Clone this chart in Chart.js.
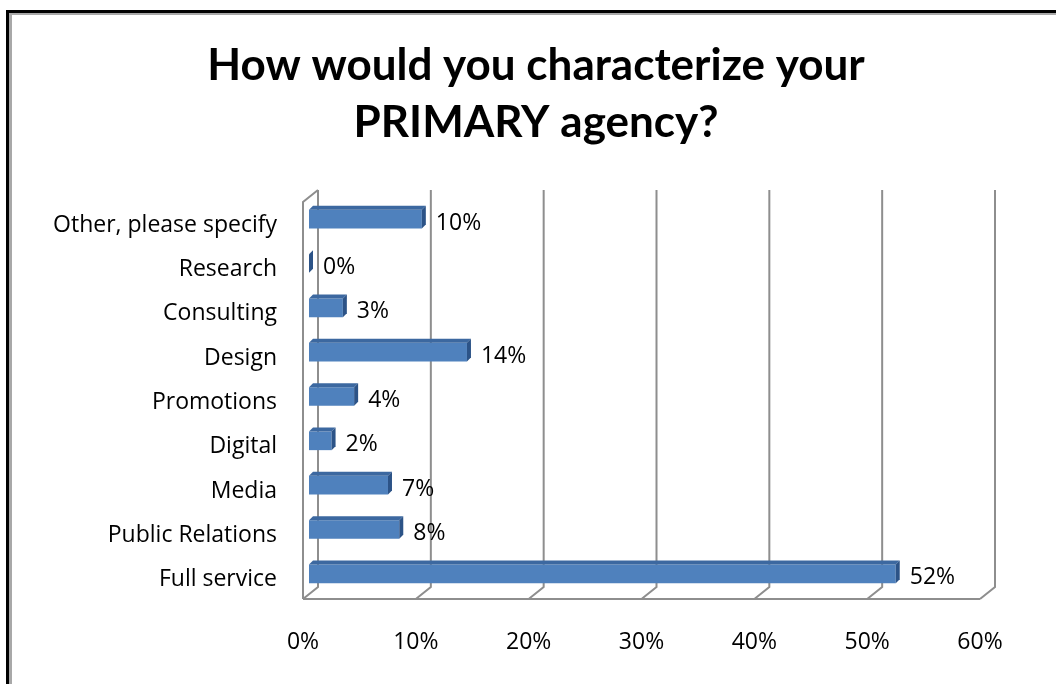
<!DOCTYPE html>
<html>
<head>
<meta charset="utf-8">
<title>Primary agency</title>
<script src="https://cdn.jsdelivr.net/npm/chart.js@4.4.1/dist/chart.umd.min.js"></script>
<style>
  html, body { margin: 0; padding: 0; background: #fff; width: 1056px; height: 684px; overflow: hidden; }
  #frame { position: absolute; left: 6px; top: 10px; width: 1100px; height: 720px; border-top: 3px solid #000; border-left: 3px solid #000; }
  #frame::after { content: ''; position: absolute; left: 0; top: 0; right: 0; bottom: 0; border-top: 2px solid #a8a8a8; border-left: 3px solid #a8a8a8; }
  canvas { position: absolute; left: 0; top: 0; }
</style>
</head>
<body>
<div id="frame"></div>
<canvas id="myChart" width="1056" height="684"></canvas>
<script>
  'use strict';

  var categories = ['Other, please specify', 'Research', 'Consulting', 'Design', 'Promotions',
                    'Digital', 'Media', 'Public Relations', 'Full service'];
  var percentages = [10, 0, 3, 14, 4, 2, 7, 8, 52];
  var tickLabels = ['0%', '10%', '20%', '30%', '40%', '50%', '60%'];
  var titleLines = ['How would you characterize your', 'PRIMARY agency?'];

  var labelFont = { family: 'Open Sans', size: 23 };

  // fake 3D: the walls sit a bit in front of / behind the bar plane
  var DEPTH_X = 15, DEPTH_Y = 12, FRONT_SHIFT = 6, BAR_D = 4;

  // title is centred on the whole frame, not on the plot, so draw it by hand
  var titleBlock = {
    id: 'titleBlock',
    afterDraw: function(chart) {
      var ctx = chart.ctx;
      ctx.save();
      ctx.fillStyle = '#000';
      ctx.font = 'bold 44px Lato';
      ctx.textAlign = 'center';
      ctx.textBaseline = 'middle';
      titleLines.forEach(function(line, i) {
        ctx.fillText(line, 536, 66 + i * 57);
      });
      ctx.restore();
    }
  };

  var walls = {
    id: 'walls',
    beforeDatasetsDraw: function(chart) {
      var ctx = chart.ctx, a = chart.chartArea, xs = chart.scales.x;
      var floorFront = a.bottom + 3, floorBack = floorFront - DEPTH_Y;
      var topFront = a.top + 5, topBack = topFront - DEPTH_Y;
      var x0 = xs.getPixelForValue(xs.min) - FRONT_SHIFT;
      var x1 = xs.getPixelForValue(xs.max) - FRONT_SHIFT;
      ctx.save();
      ctx.strokeStyle = '#8e8e8e';
      ctx.lineWidth = 2;
      // floor front edge
      ctx.beginPath();
      ctx.moveTo(x0, floorFront);
      ctx.lineTo(x1, floorFront);
      ctx.stroke();
      // left side wall
      ctx.beginPath();
      ctx.moveTo(x0, floorFront);
      ctx.lineTo(x0, topFront);
      ctx.lineTo(x0 + DEPTH_X, topBack);
      ctx.stroke();
      // back wall gridlines + floor diagonals
      xs.ticks.forEach(function(t) {
        var fx = xs.getPixelForValue(t.value) - FRONT_SHIFT;
        ctx.beginPath();
        ctx.moveTo(fx, floorFront);
        ctx.lineTo(fx + DEPTH_X, floorBack);
        ctx.lineTo(fx + DEPTH_X, topBack);
        ctx.stroke();
      });
      ctx.restore();
    }
  };

  var bars3d = {
    id: 'bars3d',
    afterDatasetsDraw: function(chart) {
      var ctx = chart.ctx;
      ctx.save();
      chart.getDatasetMeta(0).data.forEach(function(bar, i) {
        var p = bar.getProps(['x', 'y', 'base', 'height'], true);
        var top = p.y - p.height / 2, bottom = p.y + p.height / 2;
        // top face
        ctx.fillStyle = '#3c68a0';
        ctx.beginPath();
        ctx.moveTo(p.base, top);
        ctx.lineTo(p.x, top);
        ctx.lineTo(p.x + BAR_D, top - BAR_D);
        ctx.lineTo(p.base + BAR_D, top - BAR_D);
        ctx.closePath();
        ctx.fill();
        // end face
        ctx.fillStyle = '#2c5387';
        ctx.beginPath();
        ctx.moveTo(p.x, top);
        ctx.lineTo(p.x + BAR_D, top - BAR_D);
        ctx.lineTo(p.x + BAR_D, bottom - BAR_D);
        ctx.lineTo(p.x, bottom);
        ctx.closePath();
        ctx.fill();
        // value label
        ctx.fillStyle = '#000';
        ctx.font = labelFont.size + 'px "' + labelFont.family + '"';
        ctx.textAlign = 'left';
        ctx.textBaseline = 'middle';
        ctx.fillText(percentages[i] + '%', p.x + BAR_D + 10, p.y + 4);
      });
      ctx.restore();
    }
  };

  var ctx = document.getElementById('myChart').getContext('2d');
  new Chart(ctx, {
    type: 'bar',
    data: {
      labels: categories,
      datasets: [{
        data: percentages,
        backgroundColor: '#4f81bd',
        barPercentage: 0.42,
        categoryPercentage: 1.0
      }]
    },
    options: {
      indexAxis: 'y',
      responsive: false,
      animation: false,
      layout: { padding: { left: 20, right: 70, top: 197, bottom: 0 } },
      plugins: {
        legend: { display: false },
        tooltip: { enabled: false },
        title: { display: false }
      },
      scales: {
        x: {
          min: 0,
          max: 60,
          grid: { display: false, drawTicks: false },
          border: { display: false },
          ticks: {
            stepSize: 10,
            padding: 33,
            labelOffset: -6,
            color: '#000',
            font: labelFont,
            callback: function(value, index) { return tickLabels[index]; }
          },
          afterFit: function(scale) { scale.height = 88; }
        },
        y: {
          grid: { display: false, drawTicks: false },
          border: { display: false },
          ticks: { padding: 32, labelOffset: 6, color: '#000', font: labelFont },
          afterFit: function(scale) { scale.width = 289; }
        }
      }
    },
    plugins: [walls, bars3d, titleBlock]
  });
</script>
</body>
</html>
